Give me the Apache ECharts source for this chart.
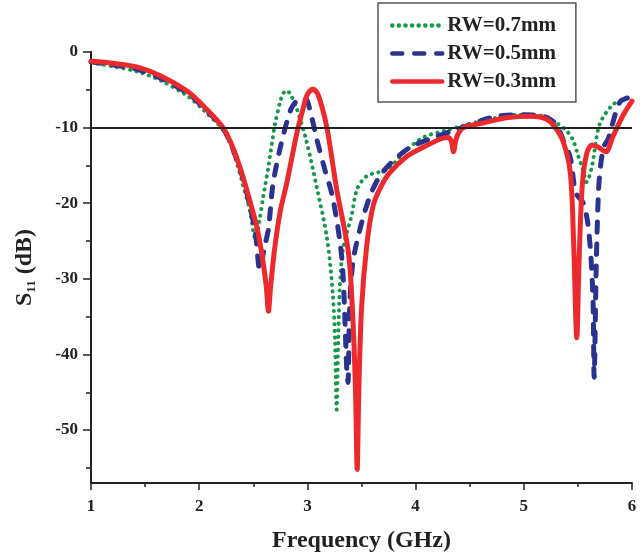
<!DOCTYPE html>
<html><head><meta charset="utf-8">
<script src="https://cdn.jsdelivr.net/npm/echarts@6/dist/echarts.min.js"></script>
<style>html,body{margin:0;padding:0;background:#fff}#c{width:642px;height:558px}</style>
</head><body><div id="c"></div>
<script>
// ---- data ----
const legendNames = ['RW=0.7mm', 'RW=0.5mm', 'RW=0.3mm'];

const freq07 = [1.0, 1.2, 1.43, 1.65, 1.9, 2.05, 2.22, 2.31, 2.40, 2.47, 2.52, 2.56, 2.59, 2.64, 2.70, 2.75, 2.78, 2.81, 2.85, 2.90, 2.99, 3.09, 3.18, 3.235, 3.255, 3.27, 3.285, 3.30, 3.33, 3.41, 3.46, 3.55, 3.74, 3.90, 4.07, 4.30, 4.62, 4.96, 5.20, 5.27, 5.38, 5.45, 5.50, 5.55, 5.58, 5.63, 5.70, 5.82, 5.92, 6.0];
const s11_07 = [-1.4, -1.9, -2.6, -3.8, -5.9, -7.8, -10.3, -13.0, -17.3, -21.1, -24.7, -22.0, -19.3, -15.1, -9.6, -6.5, -5.4, -5.1, -5.8, -7.4, -11.7, -18.1, -24.5, -32.0, -38.0, -47.3, -38.0, -31.0, -26.0, -21.5, -18.1, -16.4, -15.5, -13.2, -11.3, -10.3, -9.1, -8.3, -8.5, -9.1, -10.2, -11.5, -13.6, -15.8, -17.2, -15.1, -9.6, -7.0, -6.3, -6.0];

const freq05 = [1.0, 1.2, 1.43, 1.65, 1.9, 2.05, 2.22, 2.31, 2.40, 2.47, 2.52, 2.56, 2.60, 2.64, 2.68, 2.75, 2.85, 2.92, 2.96, 3.00, 3.09, 3.16, 3.23, 3.30, 3.33, 3.365, 3.375, 3.39, 3.42, 3.49, 3.58, 3.67, 3.80, 3.95, 4.15, 4.35, 4.75, 5.00, 5.20, 5.30, 5.36, 5.43, 5.48, 5.55, 5.59, 5.62, 5.64, 5.65, 5.67, 5.69, 5.71, 5.74, 5.78, 5.82, 5.89, 6.0];
const s11_05 = [-1.3, -1.7, -2.3, -3.5, -5.5, -7.5, -10.1, -12.8, -16.5, -20.5, -24.0, -28.8, -26.0, -23.4, -17.7, -12.6, -7.5, -6.2, -6.1, -6.5, -11.7, -15.5, -19.0, -25.0, -29.6, -42.4, -43.7, -34.0, -27.9, -23.2, -19.0, -16.4, -14.3, -12.6, -11.4, -10.4, -8.5, -8.3, -8.6, -9.6, -11.5, -14.0, -18.6, -20.0, -22.5, -27.0, -33.0, -43.0, -28.0, -18.5, -15.0, -12.5, -11.5, -9.5, -6.6, -5.9];

const freq03 = [1.0, 1.2, 1.43, 1.65, 1.9, 2.05, 2.22, 2.31, 2.40, 2.47, 2.53, 2.58, 2.62, 2.64, 2.66, 2.70, 2.75, 2.81, 2.90, 2.96, 3.00, 3.05, 3.10, 3.18, 3.27, 3.38, 3.42, 3.445, 3.46, 3.475, 3.50, 3.55, 3.61, 3.68, 3.76, 3.92, 4.07, 4.23, 4.30, 4.33, 4.35, 4.37, 4.39, 4.44, 4.62, 4.84, 5.06, 5.20, 5.27, 5.36, 5.43, 5.46, 5.49, 5.51, 5.54, 5.58, 5.63, 5.69, 5.76, 5.82, 5.92, 6.0];
const s11_03 = [-1.2, -1.5, -2.0, -3.2, -5.3, -7.3, -10.0, -12.6, -16.3, -19.8, -23.0, -26.8, -31.0, -34.3, -31.0, -25.7, -21.0, -17.3, -10.9, -7.5, -5.6, -4.9, -5.7, -10.0, -18.1, -26.6, -35.2, -45.0, -55.2, -45.0, -34.0, -25.4, -20.2, -17.8, -16.0, -13.8, -12.6, -11.5, -11.3, -11.8, -13.2, -11.8, -10.9, -10.0, -9.4, -8.7, -8.5, -8.8, -9.6, -11.7, -16.0, -25.0, -37.8, -28.0, -17.7, -13.5, -12.3, -12.6, -13.2, -11.3, -8.3, -6.5];

const xTickValues = [1, 2, 3, 4, 5, 6];
const yLabelValues = [0, -10, -20, -30, -40, -50];
const yMinorTickValues = [0, -5, -10, -15, -20, -25, -30, -35, -40, -45, -50, -55];
const refLevel = -10;

// ---- chart ----
const zip = (xs, ys) => xs.map((x, i) => [x, ys[i]]);
const FONT = 'Liberation Serif';
const TXT = '#222';
const chart = echarts.init(document.getElementById('c'), null, {renderer: 'canvas'});

const yBase = {
  type: 'value', min: -57, max: 0, position: 'left',
  splitLine: {show: false},
  axisLine: {show: true, lineStyle: {color: '#222', width: 1.8}}
};

chart.setOption({
  animation: false,
  backgroundColor: '#fff',
  grid: {left: 91, right: 10, top: 52, bottom: 64, containLabel: false},
  legend: {
    orient: 'vertical', left: 378, top: 3,
    itemWidth: 50, itemHeight: 14, itemGap: 7,
    padding: [12, 20, 10, 12],
    borderColor: '#555', borderWidth: 1.5,
    itemStyle: {opacity: 0},
    lineStyle: {width: 4.5},
    textStyle: {fontFamily: FONT, fontWeight: 'bold', fontSize: 21, color: TXT},
    data: legendNames
  },
  xAxis: {
    type: 'value', min: 1, max: 6, interval: 1,
    name: 'Frequency (GHz)', nameLocation: 'middle', nameGap: 46,
    nameTextStyle: {fontFamily: FONT, fontWeight: 'bold', fontSize: 24, color: TXT},
    axisLine: {show: true, onZero: false, lineStyle: {color: '#222', width: 1.8}},
    axisTick: {show: true, inside: false, length: 7, lineStyle: {color: '#222', width: 1.5}},
    minorTick: {show: true, splitNumber: 2, length: 4, lineStyle: {color: '#222', width: 1.5}},
    axisLabel: {fontFamily: FONT, fontWeight: 'bold', fontSize: 17, color: TXT, margin: 15,
      customValues: xTickValues},
    splitLine: {show: false}
  },
  yAxis: [
    Object.assign({}, yBase, {
      name: '{a|S}{b|11}{a| (dB)}', nameLocation: 'middle', nameGap: 53, nameRotate: 90,
      nameTextStyle: {rich: {
        a: {fontFamily: FONT, fontWeight: 'bold', fontSize: 24, color: TXT},
        b: {fontFamily: FONT, fontWeight: 'bold', fontSize: 13, color: TXT, verticalAlign: 'bottom', padding: [14, 0, 0, 0]}
      }},
      axisTick: {show: true, inside: false, length: 5, customValues: yMinorTickValues, lineStyle: {color: '#222', width: 1.5}},
      axisLabel: {fontFamily: FONT, fontWeight: 'bold', fontSize: 17, color: TXT, margin: 13,
        customValues: yLabelValues}
    }),
    Object.assign({}, yBase, {
      axisTick: {show: true, inside: false, length: 8, customValues: yLabelValues, lineStyle: {color: '#222', width: 1.5}},
      axisLabel: {show: false}
    })
  ],
  series: [
    {
      name: legendNames[0], type: 'line', data: zip(freq07, s11_07),
      symbol: 'none', showSymbol: false, smooth: 0.3, z: 2,
      lineStyle: {color: '#14994a', width: 4, type: [0.1, 6.5], cap: 'round'},
      itemStyle: {color: '#14994a'},
      markLine: {
        silent: true, symbol: 'none', label: {show: false},
        lineStyle: {color: '#222', width: 1.8, type: 'solid'},
        data: [{yAxis: refLevel}]
      }
    },
    {
      name: legendNames[1], type: 'line', data: zip(freq05, s11_05),
      symbol: 'none', showSymbol: false, smooth: 0.3, z: 3,
      lineStyle: {color: '#2b3390', width: 5, type: [10, 12], cap: 'round'},
      itemStyle: {color: '#2b3390'}
    },
    {
      name: legendNames[2], type: 'line', data: zip(freq03, s11_03),
      symbol: 'none', showSymbol: false, smooth: 0.3, z: 4,
      lineStyle: {color: '#ec2a2e', width: 5, type: 'solid', cap: 'round', join: 'round'},
      itemStyle: {color: '#ec2a2e'}
    }
  ]
});
</script>
</body></html>
